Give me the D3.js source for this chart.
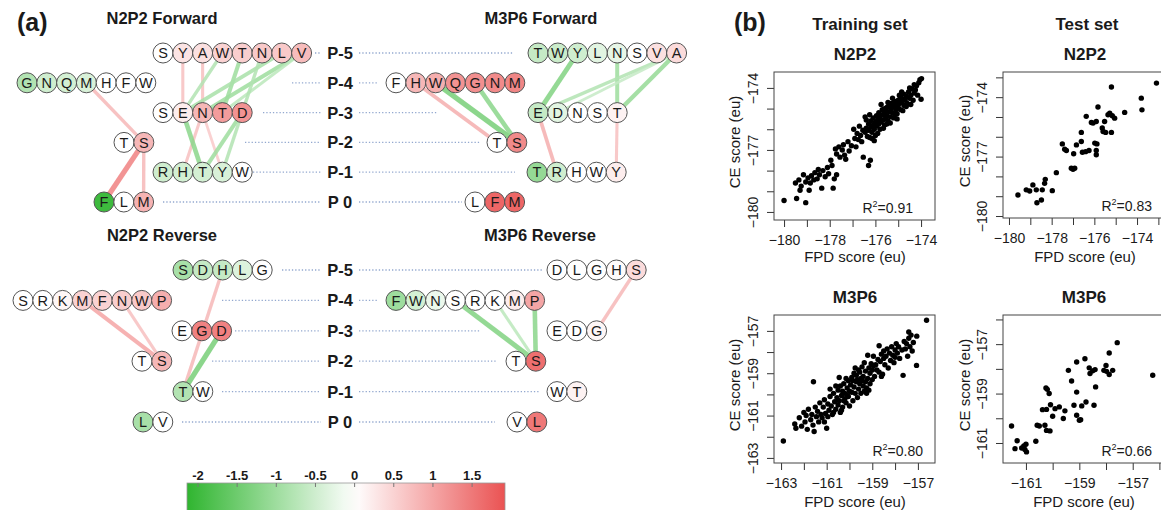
<!DOCTYPE html>
<html>
<head>
<meta charset="utf-8">
<title>N2P2 / M3P6 position preferences</title>
<style>
  body { margin: 0; background: #fff; }
  svg text { font-family: "Liberation Sans", Arial, sans-serif; fill: #1a1a1a; }
</style>
</head>
<body>
<svg id="fig" width="1161" height="510"></svg>
<script src="https://d3js.org/d3.v7.min.js"></script>
<script>
// ---------- data : panel (a) ----------
const rowLabels = ["P-5", "P-4", "P-3", "P-2", "P-1", "P 0"]

const n2p2FwdLetters = ["SYAWTNLV", "GNQMHFW", "SENTD", "TS", "RHTYW", "FLM"]
const n2p2FwdValues = [
  [0, 0.3, 0.35, 0.5, 0.55, 0.6, 0.6, 0.75],
  [-0.8, -0.5, -0.45, -0.4, 0, 0, 0],
  [0, 0.2, 0.8, 1.1, 1.2],
  [0, 0.8],
  [-0.5, -0.45, -0.45, -0.4, 0],
  [-2, 0, 0.85]
]
// [fromRow, fromIndex, toRow, toIndex, value]
const n2p2FwdLinks = [
  [1, 3, 3, 1, 0.8], [3, 1, 5, 0, 1.4], [3, 1, 5, 2, 0.8],
  [0, 1, 2, 1, 0.7], [0, 2, 2, 2, 0.7], [2, 2, 4, 1, 0.7], [2, 2, 4, 3, 0.6],
  [0, 3, 2, 1, -0.8], [0, 4, 2, 3, -1.0], [0, 6, 2, 1, -0.9], [0, 7, 2, 2, -1.0],
  [0, 7, 2, 3, -0.7], [0, 5, 2, 4, -0.8], [2, 1, 4, 2, -1.2], [2, 4, 4, 2, -1.0],
  [2, 4, 4, 3, -0.8]
]

const m3p6FwdLetters = ["TWYLNSVA", "FHWQGNM", "EDNST", "TS", "TRHWY", "LFM"]
const m3p6FwdValues = [
  [-0.6, -0.55, -0.5, -0.3, -0.25, 0, 0.35, 0.4],
  [0, 0.8, 0.9, 1.2, 1.25, 1.3, 1.35],
  [-0.6, -0.3, 0, 0, 0.15],
  [0, 1.3],
  [-1.1, -0.5, 0, 0, 0.2],
  [0, 1.7, 1.7]
]
const m3p6FwdLinks = [
  [1, 1, 3, 0, 0.9], [1, 2, 3, 1, -1.4], [1, 4, 3, 1, -1.2],
  [0, 2, 2, 0, -1.3], [0, 4, 2, 4, -1.0], [2, 4, 4, 4, 0.7],
  [0, 7, 2, 0, -0.8], [0, 7, 2, 1, -0.6], [0, 7, 2, 4, -1.1], [2, 0, 4, 1, 0.9]
]

const n2p2RevLetters = ["SDHLG", "SRKMFNWP", "EGD", "TS", "TW", "LV"]
const n2p2RevValues = [
  [-0.9, -0.6, -0.6, -0.35, 0],
  [0, 0, 0.1, 0.5, 0.5, 0.55, 0.6, 0.9],
  [0, 1.4, 1.4],
  [0, 0.8],
  [-0.8, 0],
  [-0.9, 0]
]
const n2p2RevLinks = [
  [1, 3, 3, 1, 1.0], [1, 5, 3, 1, 0.7], [0, 2, 4, 0, 0.8], [2, 2, 4, 0, -1.4]
]

const m3p6RevLetters = ["DLGHS", "FWNSRKMP", "EDG", "TS", "WT", "VL"]
const m3p6RevValues = [
  [0, 0, 0, 0.05, 0.4],
  [-1.0, -0.45, -0.2, 0, 0, 0, 0.2, 1.0],
  [0, 0, 0.1],
  [0, 1.6],
  [0, 0.15],
  [0, 1.5]
]
const m3p6RevLinks = [
  [1, 3, 3, 1, -1.3], [1, 5, 3, 1, -0.7], [1, 7, 3, 1, -1.2], [0, 4, 2, 2, 0.8]
]

const legendTicks = [-2, -1.5, -1, -0.5, 0, 0.5, 1, 1.5]

// ---------- data : panel (b) ----------
const trainN2P2 = [
  [-180.0,-179.45],[-179.45,-179.35],[-179.05,-179.55],[-179.5,-178.6],[-179.3,-178.95],[-179.25,-178.75],
  [-179.15,-178.2],[-179.05,-178.55],[-178.95,-178.35],[-178.85,-178.6],[-178.8,-178.25],[-178.7,-178.45],
  [-178.65,-178.1],[-178.55,-178.4],[-178.5,-177.95],[-178.45,-178.2],[-178.35,-178.85],[-178.3,-178.0],
  [-178.2,-178.3],[-178.1,-177.85],[-178.05,-178.15],[-177.85,-178.85],[-177.9,-177.75],[-177.8,-178.4],
  [-177.7,-178.2],[-177.75,-176.95],[-177.7,-177.2],[-177.6,-176.85],[-177.55,-177.35],[-177.45,-177.0],
  [-177.4,-176.75],[-177.35,-177.25],[-177.3,-177.45],[-177.2,-176.6],[-177.15,-177.05],[-177.05,-176.8],
  [-176.95,-176.0],[-176.9,-176.45],[-176.85,-176.85],[-176.8,-176.2],[-176.75,-176.5],[-176.7,-175.85],
  [-176.65,-176.3],[-176.6,-176.6],[-176.55,-176.05],[-176.53,-177.35],[-176.3,-177.75],[-176.22,-177.5],
  [-176.45,-175.4],[-177.95,-177.5],[-178.9,-178.95],[-179.35,-178.45],
  [-176.45,-176.15],[-176.4,-175.95],[-176.35,-176.35],[-176.3,-175.75],[-176.3,-176.05],[-176.25,-176.4],
  [-176.2,-175.6],[-176.2,-175.9],[-176.15,-176.15],[-176.1,-175.45],[-176.1,-175.8],[-176.05,-176.0],
  [-176.0,-175.65],[-176.0,-176.3],[-175.95,-175.35],[-175.95,-175.85],[-175.9,-175.55],[-175.85,-175.75],
  [-175.85,-175.2],[-175.8,-175.45],[-175.8,-176.0],[-175.75,-175.65],[-175.7,-175.3],[-175.7,-175.05],
  [-175.65,-175.55],[-175.6,-175.25],[-175.6,-175.8],[-175.55,-175.1],[-175.55,-175.45],[-175.5,-174.95],
  [-175.5,-175.35],[-175.45,-175.6],[-175.4,-175.15],[-175.4,-174.85],[-175.35,-175.4],[-175.3,-175.0],
  [-175.3,-174.75],[-175.25,-175.2],[-175.2,-174.9],[-175.2,-175.45],[-175.15,-174.65],[-175.1,-175.05],
  [-175.1,-174.8],[-175.05,-175.25],[-175.0,-174.6],[-175.0,-174.95],[-174.95,-174.75],[-174.9,-174.45],
  [-174.9,-175.05],[-174.85,-174.7],[-174.8,-174.55],[-174.75,-174.3],[-174.75,-174.85],[-174.7,-174.6],
  [-174.65,-174.4],[-174.6,-174.75],[-174.55,-174.2],[-174.5,-174.5],[-174.45,-174.35],[-174.4,-174.05],
  [-174.35,-174.6],[-174.3,-174.25],
  [-176.4,-175.55],[-176.25,-175.3],[-176.05,-176.55],[-175.9,-176.2],[-175.75,-174.8],[-175.65,-175.95],
  [-175.45,-174.7],[-175.35,-175.7],[-175.25,-174.5],[-175.05,-175.5],[-174.95,-174.35],[-174.8,-175.1],
  [-174.65,-174.9],[-174.5,-174.0],[-175.6,-175.0],[-175.15,-175.3],[-174.85,-174.2],[-176.15,-176.45],
  [-175.85,-175.4],[-175.5,-175.75],
  [-174.25,-174.1],[-174.2,-173.9],[-174.15,-174.35],[-174.1,-173.75],[-174.05,-173.6],[-173.98,-173.55],
  [-174.0,-174.55],[-174.3,-173.85],[-174.45,-174.8]
]

const testN2P2 = [
  [-179.58,-178.94],[-179.19,-178.68],[-179.03,-178.74],[-178.88,-178.43],[-178.72,-178.68],[-178.69,-179.33],
  [-178.48,-179.19],[-178.44,-178.68],[-178.33,-178.35],[-178.3,-178.15],[-177.97,-178.72],[-177.78,-177.81],
  [-177.5,-176.36],[-177.39,-176.63],[-177.31,-176.69],[-177.08,-177.59],[-177.0,-177.64],[-176.92,-177.59],
  [-176.97,-176.86],[-176.84,-176.41],[-176.61,-176.24],[-176.61,-175.78],[-176.56,-176.78],[-176.41,-176.75],
  [-176.25,-176.69],[-176.38,-174.97],[-176.14,-175.28],[-176.06,-175.31],[-175.91,-175.23],[-175.98,-176.32],
  [-175.88,-176.36],[-175.91,-176.69],[-175.91,-176.91],[-175.83,-174.5],[-175.63,-175.56],[-175.59,-175.73],
  [-175.52,-175.23],[-175.47,-175.78],[-175.2,-175.78],[-175.36,-174.89],[-175.28,-174.81],[-175.16,-174.94],
  [-175.05,-175.06],[-175.2,-173.49],[-174.58,-174.77],[-173.8,-174.05],[-173.77,-174.64],[-173.09,-173.29]
]

const trainM3P6 = [
  [-162.9,-162.2],[-162.4,-161.4],[-162.35,-161.6],[-162.2,-161.1],[-162.1,-161.5],[-162.0,-160.85],
  [-161.95,-161.3],[-161.9,-161.0],[-161.85,-161.65],[-161.8,-160.7],[-161.7,-161.2],[-161.65,-160.95],
  [-161.6,-161.45],[-161.55,-161.75],[-161.5,-160.6],[-161.45,-161.05],[-161.4,-160.8],[-161.35,-161.3],
  [-161.3,-160.4],[-161.25,-160.95],[-161.58,-159.4],[-161.2,-161.1],
  [-161.15,-160.6],[-161.1,-160.25],[-161.05,-160.9],[-161.0,-161.6],[-160.95,-160.45],[-160.9,-160.75],
  [-160.85,-160.1],[-160.8,-160.55],[-160.75,-160.95],[-160.7,-159.95],[-160.65,-160.35],[-160.6,-160.7],
  [-160.55,-160.15],[-160.5,-159.8],[-160.5,-160.5],[-160.45,-160.3],[-160.4,-159.6],[-160.4,-160.85],
  [-160.35,-160.05],[-160.3,-159.85],[-160.3,-160.6],[-160.25,-159.5],[-160.2,-160.2],[-160.2,-159.95],
  [-160.15,-160.4],[-160.1,-159.7],[-160.05,-159.35],[-160.05,-160.1],[-160.0,-159.85],[-160.0,-160.55],
  [-161.1,-161.3],[-160.95,-161.05],[-160.85,-159.75],[-160.7,-160.85],[-160.6,-159.6],[-160.45,-159.2],
  [-160.35,-160.75],[-160.25,-160.3],[-160.15,-159.25],[-160.1,-160.05],
  [-159.95,-159.55],[-159.9,-159.9],[-159.9,-159.2],[-159.85,-160.3],[-159.8,-159.65],[-159.8,-159.0],
  [-159.75,-159.95],[-159.7,-159.4],[-159.7,-159.1],[-159.65,-160.15],[-159.6,-159.75],[-159.6,-158.85],
  [-159.55,-159.5],[-159.5,-159.25],[-159.5,-159.95],[-159.45,-158.7],[-159.4,-159.6],[-159.4,-159.15],
  [-159.35,-159.85],[-159.3,-159.4],[-159.3,-158.9],[-159.25,-159.7],[-159.2,-158.15],[-159.2,-159.25],
  [-159.15,-158.75],[-159.1,-159.5],[-159.1,-159.0],[-159.05,-158.55],[-159.0,-159.3],[-159.0,-158.85],
  [-159.85,-159.35],[-159.75,-158.75],[-159.65,-159.3],[-159.55,-158.95],[-159.45,-159.35],[-159.35,-158.5],
  [-159.25,-159.95],[-159.15,-159.8],
  [-158.95,-158.2],[-158.9,-159.15],[-158.85,-158.6],[-158.8,-158.85],[-158.75,-158.35],[-158.7,-157.7],
  [-158.7,-158.95],[-158.65,-158.45],[-158.6,-158.1],[-158.55,-159.05],[-158.5,-158.3],[-158.5,-157.95],
  [-158.45,-158.6],[-158.4,-158.2],[-158.35,-157.85],[-158.3,-158.75],[-158.25,-158.05],[-158.2,-158.4],
  [-158.15,-157.75],[-158.1,-158.15],[-158.05,-158.5],[-158.0,-157.9],[-158.0,-158.25],[-158.95,-158.65],
  [-158.6,-159.15],
  [-157.95,-157.6],[-157.9,-158.05],[-157.85,-157.75],[-157.8,-158.3],[-157.7,-157.9],[-157.65,-159.1],
  [-157.6,-157.5],[-157.55,-157.85],[-157.5,-157.6],[-157.45,-158.2],[-157.4,-157.35],[-157.35,-157.75],
  [-157.3,-157.2],[-157.25,-157.95],[-157.2,-157.55],[-157.06,-158.63],[-157.05,-157.25],[-157.4,-157.05],
  [-156.62,-156.5]
]

const testM3P6 = [
  [-161.54,-160.31],[-161.33,-160.91],[-161.41,-161.23],[-161.16,-161.2],[-161.08,-161.12],[-161.04,-161.26],
  [-160.98,-161.36],[-161.0,-161.05],[-160.63,-160.93],[-160.58,-160.28],[-160.5,-160.31],[-160.38,-159.65],
  [-160.29,-160.28],[-160.23,-160.49],[-160.1,-160.51],[-160.25,-158.77],[-160.2,-158.83],[-160.13,-159.0],
  [-160.23,-159.64],[-160.08,-159.45],[-160.0,-159.92],[-159.91,-159.61],[-159.75,-159.54],[-159.6,-160.01],
  [-159.54,-159.7],[-159.41,-158.06],[-159.29,-158.49],[-159.1,-157.72],[-159.1,-158.94],[-159.2,-159.47],
  [-159.1,-159.88],[-159.0,-160.08],[-158.95,-160.06],[-158.91,-159.5],[-158.75,-159.34],[-158.79,-157.59],
  [-158.63,-157.96],[-158.6,-158.19],[-158.5,-158.08],[-158.45,-159.47],[-158.41,-158.03],[-158.39,-158.73],
  [-158.08,-158.06],[-158.0,-157.86],[-157.98,-158.1],[-157.88,-158.23],[-157.88,-157.36],[-157.75,-158.06],
  [-157.58,-156.94],[-156.25,-158.26]
]

const n2p2XTicks = [-180, -179, -178, -177, -176, -175, -174, -173]
const n2p2XLabels = [-180, -178, -176, -174]
const n2p2YTicks = [-180, -179, -178, -177, -176, -175, -174, -173]
const n2p2YLabels = [-180, -177, -174]
const m3p6Ticks = [-163, -162, -161, -160, -159, -158, -157, -156]
const m3p6TrainXLabels = [-163, -161, -159, -157]
const m3p6TrainYLabels = [-163, -161, -159, -157]
const m3p6TestLabels = [-161, -159, -157]

// ---------- drawing ----------
const svg = d3.select('#fig')
const colour = d3.scaleLinear().domain([-2.15, 0, 1.95]).range(['#2fb52f', '#ffffff', '#ea5050'])
const linkWidth = d3.scaleLinear().domain([0.5, 1.5]).range([2.5, 5.5]).clamp(true)
const step = 19.8, rad = 10

svg.append('text').attr('x', 17).attr('y', 31).attr('font-size', 25).attr('font-weight', 'bold').text('(a)')
svg.append('text').attr('x', 734).attr('y', 31).attr('font-size', 25).attr('font-weight', 'bold').text('(b)')

function drawDiagram(d) {
  const y = d3.scalePoint().domain(rowLabels).range(d.yRange)
  const g = svg.append('g')
  const px = (r, i) => d.startX[r] + i * step
  const py = r => y(rowLabels[r])

  g.append('text').attr('x', d.titleX).attr('y', d.yRange[0] - 29)
    .attr('text-anchor', 'middle').attr('font-size', 16.5).attr('font-weight', 'bold').text(d.title)

  g.selectAll('line.guide').data(d.guides).join('line')
    .attr('x1', e => e[0]).attr('x2', e => e[1])
    .attr('y1', (e, r) => py(r)).attr('y2', (e, r) => py(r))
    .attr('stroke', '#93a8cf').attr('stroke-width', 1.3).attr('stroke-dasharray', '1.3,2')

  g.selectAll('line.link').data(d.links).join('line')
    .attr('x1', l => px(l[0], l[1])).attr('y1', l => py(l[0]))
    .attr('x2', l => px(l[2], l[3])).attr('y2', l => py(l[2]))
    .attr('stroke', l => colour(l[4])).attr('stroke-width', l => linkWidth(Math.abs(l[4])))
    .attr('stroke-opacity', 0.85)

  const nodes = d.letters.flatMap((w, r) => w.split('').map((ch, i) => ({ ch, v: d.values[r][i], x: px(r, i), y: py(r) })))
  const node = g.selectAll('g.node').data(nodes).join('g').attr('transform', n => `translate(${n.x},${n.y})`)
  node.append('circle').attr('r', rad).attr('fill', n => colour(n.v)).attr('stroke', '#555').attr('stroke-width', 1)
  node.append('text').attr('text-anchor', 'middle').attr('dy', '0.36em').attr('font-size', 14.5).text(n => n.ch)
}

function drawRowLabels(yRange) {
  const y = d3.scalePoint().domain(rowLabels).range(yRange)
  svg.append('g').selectAll('text').data(rowLabels).join('text')
    .attr('x', 340).attr('y', r => y(r)).attr('dy', '0.36em').attr('text-anchor', 'middle')
    .attr('font-size', 16.5).attr('font-weight', 'bold').text(r => r)
}

drawRowLabels([53, 202])
drawRowLabels([270, 422])

drawDiagram({
  title: 'N2P2 Forward', titleX: 162, yRange: [53, 202],
  letters: n2p2FwdLetters, values: n2p2FwdValues, links: n2p2FwdLinks,
  startX: [163, 27, 163, 124, 163, 104],
  guides: [[315, 321], [292, 321], [263, 321], [245, 321], [253, 321], [163, 321]]
})
drawDiagram({
  title: 'M3P6 Forward', titleX: 541, yRange: [53, 202],
  letters: m3p6FwdLetters, values: m3p6FwdValues, links: m3p6FwdLinks,
  startX: [538, 396, 538, 497, 537, 475],
  guides: [[359, 514], [359, 377], [359, 437], [359, 480], [359, 515], [359, 462]]
})
drawDiagram({
  title: 'N2P2 Reverse', titleX: 162, yRange: [270, 422],
  letters: n2p2RevLetters, values: n2p2RevValues, links: n2p2RevLinks,
  startX: [183, 23, 182, 142, 183, 143],
  guides: [[282, 321], [222, 321], [235, 321], [212, 321], [222, 321], [182, 321]]
})
drawDiagram({
  title: 'M3P6 Reverse', titleX: 540, yRange: [270, 422],
  letters: m3p6RevLetters, values: m3p6RevValues, links: m3p6RevLinks,
  startX: [557, 396, 557, 516, 557, 517],
  guides: [[359, 543], [359, 377], [359, 480], [359, 497], [359, 540], [359, 495]]
})

// colour legend
const legX = d3.scaleLinear().domain([-2.14, 1.92]).range([187, 505])
const grad = svg.append('defs').append('linearGradient').attr('id', 'leg')
d3.range(-2.14, 1.93, 0.2).concat([1.92]).forEach(v => {
  grad.append('stop').attr('offset', (legX(v) - 187) / (505 - 187)).attr('stop-color', colour(v))
})
svg.append('rect').attr('x', 187).attr('y', 483).attr('width', 318).attr('height', 30)
  .attr('fill', 'url(#leg)').attr('stroke', '#999').attr('stroke-width', 0.8)
svg.append('g').selectAll('line').data(legendTicks).join('line')
  .attr('x1', legX).attr('x2', legX).attr('y1', 483).attr('y2', 487).attr('stroke', '#777')
svg.append('g').selectAll('text').data(legendTicks).join('text')
  .attr('x', legX).attr('y', 480).attr('text-anchor', 'middle')
  .attr('font-size', 13).attr('font-weight', 'bold').attr('fill', '#333').text(v => String(v))

// scatter plots
const fmt = d3.format('d')
function scatter(p) {
  const [x0, y0, x1, y1] = p.box
  const x = d3.scaleLinear().domain(p.xDomain).range([x0, x1])
  const y = d3.scaleLinear().domain(p.yDomain).range([y1, y0])
  const g = svg.append('g')

  g.append('g').attr('transform', `translate(0,${y1})`)
    .call(d3.axisBottom(x).tickValues(p.xTicks.filter(t => t >= p.xDomain[0] && t <= p.xDomain[1]))
      .tickSize(7).tickPadding(8).tickFormat(t => p.xLabels.includes(t) ? fmt(t) : ''))
    .call(a => a.select('.domain').remove())
    .call(a => a.selectAll('text').attr('font-size', 14).attr('fill', '#1a1a1a'))
    .call(a => a.selectAll('line').attr('stroke', '#333'))

  g.append('g').attr('transform', `translate(${x0},0)`)
    .call(d3.axisLeft(y).tickValues(p.yTicks.filter(t => t >= p.yDomain[0] && t <= p.yDomain[1]))
      .tickSize(7).tickFormat(t => p.yLabels.includes(t) ? fmt(t) : ''))
    .call(a => a.select('.domain').remove())
    .call(a => a.selectAll('line').attr('stroke', '#333'))
    .call(a => a.selectAll('text').attr('x', 0).attr('dy', 0).attr('font-size', 14).attr('fill', '#1a1a1a')
      .attr('text-anchor', 'middle').attr('transform', 'translate(-16,0) rotate(-90)'))

  g.append('rect').attr('x', x0).attr('y', y0).attr('width', x1 - x0).attr('height', y1 - y0)
    .attr('fill', 'none').attr('stroke', '#444').attr('stroke-width', 1)

  g.selectAll('circle').data(p.points).join('circle')
    .attr('cx', d => x(d[0])).attr('cy', d => y(d[1])).attr('r', 2.7).attr('fill', '#000')

  const r2 = g.append('text').attr('x', p.r2X).attr('y', y1 - 7).attr('text-anchor', 'end').attr('font-size', 14)
  r2.append('tspan').text('R')
  r2.append('tspan').attr('dy', -6).attr('font-size', 9).text('2')
  r2.append('tspan').attr('dy', 6).text('=' + p.r2)

  g.append('text').attr('x', p.labX).attr('y', p.xLabY).attr('text-anchor', 'middle').attr('font-size', 15).text('FPD score (eu)')
  g.append('text').attr('transform', `translate(${p.yLabX},${(y0 + y1) / 2 - 4}) rotate(-90)`)
    .attr('text-anchor', 'middle').attr('font-size', 15).text('CE score (eu)')
  g.append('text').attr('x', p.labX).attr('y', y0 - 12).attr('text-anchor', 'middle')
    .attr('font-size', 17).attr('font-weight', 'bold').text(p.title)
}

scatter({ title: 'N2P2', points: trainN2P2, box: [774, 72, 935, 220],
  xDomain: [-180.44, -173.39], yDomain: [-180.39, -173.23],
  xTicks: n2p2XTicks, xLabels: n2p2XLabels, yTicks: n2p2YTicks, yLabels: n2p2YLabels,
  r2: '0.91', r2X: 913, labX: 855, xLabY: 262, yLabX: 740 })
scatter({ title: 'N2P2', points: testN2P2, box: [1003, 72, 1165, 218],
  xDomain: [-180.28, -172.69], yDomain: [-180.1, -172.73],
  xTicks: n2p2XTicks, xLabels: n2p2XLabels, yTicks: n2p2YTicks, yLabels: n2p2YLabels,
  r2: '0.83', r2X: 1152, labX: 1085, xLabY: 262, yLabX: 970 })
scatter({ title: 'M3P6', points: trainM3P6, box: [774, 315, 935, 463],
  xDomain: [-163.31, -156.25], yDomain: [-163.24, -156.25],
  xTicks: m3p6Ticks, xLabels: m3p6TrainXLabels, yTicks: m3p6Ticks, yLabels: m3p6TrainYLabels,
  r2: '0.80', r2X: 923, labX: 855, xLabY: 507, yLabX: 740 })
scatter({ title: 'M3P6', points: testM3P6, box: [1003, 315, 1165, 463],
  xDomain: [-161.86, -155.79], yDomain: [-161.81, -155.82],
  xTicks: m3p6Ticks, xLabels: m3p6TestLabels, yTicks: m3p6Ticks, yLabels: m3p6TestLabels,
  r2: '0.66', r2X: 1152, labX: 1084, xLabY: 507, yLabX: 970 })

svg.append('text').attr('x', 860).attr('y', 30).attr('text-anchor', 'middle').attr('font-size', 17).attr('font-weight', 'bold').text('Training set')
svg.append('text').attr('x', 1087).attr('y', 30).attr('text-anchor', 'middle').attr('font-size', 17).attr('font-weight', 'bold').text('Test set')
</script>
</body>
</html>
